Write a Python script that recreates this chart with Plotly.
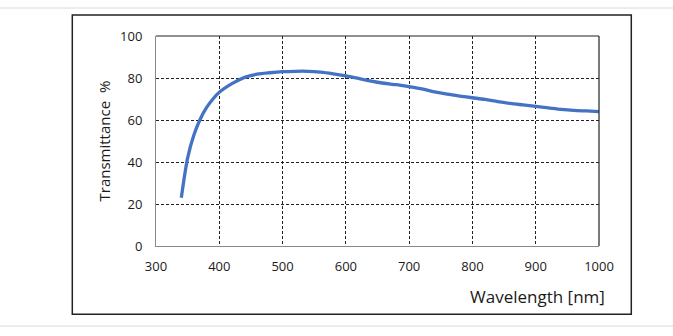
import plotly.graph_objects as go

wavelength = [340, 350, 360, 370, 380, 390, 400, 420, 440, 460, 480, 500, 520, 540, 560,
              580, 600, 620, 640, 660, 680, 700, 720, 740, 760, 780, 800, 820, 840, 860,
              880, 900, 920, 940, 960, 980, 1000]
transmittance = [23, 42, 53, 60.5, 66, 70, 73.2, 77.3, 80.3, 81.8, 82.5, 83.0, 83.2, 83.2, 82.8,
                 82.0, 81.0, 79.8, 78.5, 77.5, 76.8, 75.9, 74.8, 73.4, 72.3, 71.4, 70.6, 69.8, 68.8, 67.9,
                 67.2, 66.5, 65.8, 65.1, 64.6, 64.3, 64.0]
x_ticks = [300, 400, 500, 600, 700, 800, 900, 1000]
y_ticks = [0, 20, 40, 60, 80, 100]

FONT = "Open Sans"
W, H = 673, 336
L, R, T, B = 156, 599, 36, 246
pw, ph = R - L, B - T

def px(x):
    return (x - L) / pw

def py(y):
    return (B - y) / ph

fig = go.Figure()
fig.add_trace(go.Scatter(
    x=wavelength, y=transmittance, mode="lines",
    line=dict(color="#4472C4", width=3.3, shape="spline", smoothing=0.8),
    hoverinfo="skip", showlegend=False,
))

fig.update_layout(
    width=W, height=H,
    margin=dict(l=L, r=W - R, t=T, b=H - B),
    paper_bgcolor="white", plot_bgcolor="white",
    font=dict(family=FONT, color="#1a1a1a", size=13),
    xaxis=dict(range=[300, 1000], tickvals=x_ticks, ticks="", showgrid=True,
               gridcolor="#222", griddash="3px,2px", gridwidth=1,
               showline=True, linecolor="#888", linewidth=1, zeroline=False,
               ticklabelstandoff=8, tickfont=dict(size=13, family=FONT)),
    yaxis=dict(range=[0, 100], tickvals=y_ticks, ticks="", showgrid=True,
               gridcolor="#222", griddash="3px,2px", gridwidth=1,
               showline=True, linecolor="#888", linewidth=1, zeroline=False,
               ticklabelstandoff=10, tickfont=dict(size=13, family=FONT)),
    shapes=[
        dict(type="line", xref="paper", yref="paper", x0=0, x1=1, y0=1, y1=1,
             line=dict(color="#222", width=1.2)),
        dict(type="line", xref="paper", yref="paper", x0=1, x1=1, y0=0, y1=1,
             line=dict(color="#222", width=1.2)),
        dict(type="rect", xref="paper", yref="paper",
             x0=px(72.3), x1=px(631.3), y0=py(314.3), y1=py(15),
             line=dict(color="#222", width=1.5), layer="below"),
        dict(type="line", xref="paper", yref="paper", x0=px(0), x1=px(W), y0=py(8), y1=py(8),
             line=dict(color="#e6e6e6", width=1.5)),
        dict(type="line", xref="paper", yref="paper", x0=px(0), x1=px(W), y0=py(326), y1=py(326),
             line=dict(color="#e6e6e6", width=1.5)),
    ],
    annotations=[
        dict(text="Transmittance  %", xref="paper", yref="paper", x=px(103.5), y=0.5,
             textangle=-90, showarrow=False, xanchor="center", yanchor="middle",
             font=dict(size=15, family=FONT, color="#1a1a1a")),
        dict(text="Wavelength [nm]", xref="paper", yref="paper", x=px(607), y=py(296.5),
             showarrow=False, xanchor="right", yanchor="middle",
             font=dict(size=17, family=FONT, color="#1a1a1a")),
    ],
)

fig.write_html("out.html", config={"displayModeBar": False},
               post_script="document.body.style.margin='0px';document.body.style.overflow='hidden';")
